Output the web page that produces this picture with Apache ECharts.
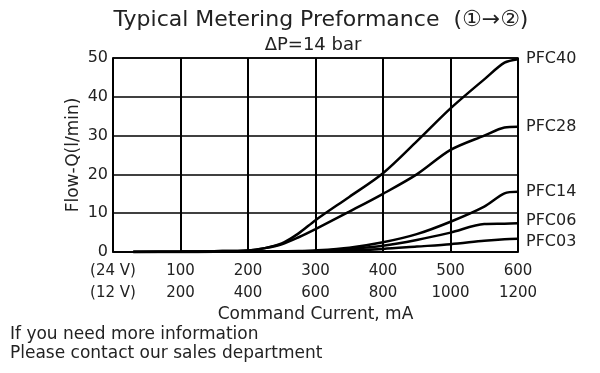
<!DOCTYPE html>
<html><head><meta charset="utf-8">
<script src="https://cdn.jsdelivr.net/npm/echarts@6/dist/echarts.min.js"></script>
<style>html,body{margin:0;padding:0;background:#fff}#c{width:600px;height:373px}</style>
</head><body><div id="c"></div>
<script>
const xs = [30, 100, 150, 200, 225, 250, 275, 300, 350, 400, 450, 500, 550, 580, 600];
const seriesNames = ['PFC40', 'PFC28', 'PFC14', 'PFC06', 'PFC03'];
const pfc40 = [0, 0.1, 0.2, 0.4, 1.0, 2.2, 4.8, 8.2, 14.2, 20.3, 28.5, 37.0, 44.5, 48.8, 49.7];
const pfc28 = [0, 0.1, 0.2, 0.4, 1.0, 2.0, 3.8, 5.9, 10.4, 15.0, 20.0, 26.3, 30.0, 32.1, 32.3];
const pfc14 = [0, 0, 0.05, 0.1, 0.15, 0.2, 0.25, 0.4, 1.1, 2.5, 4.6, 7.8, 11.7, 15.1, 15.5];
const pfc06 = [0, 0, 0.05, 0.1, 0.12, 0.15, 0.2, 0.3, 0.8, 1.6, 3.1, 5.0, 7.2, 7.3, 7.4];
const pfc03 = [0, 0, 0.05, 0.08, 0.1, 0.1, 0.12, 0.2, 0.4, 0.8, 1.4, 2.0, 2.9, 3.3, 3.4];
const xTop = ['(24 V)', '100', '200', '300', '400', '500', '600'];
const xBottom = ['(12 V)', '200', '400', '600', '800', '1000', '1200'];
const yTicks = [0, 10, 20, 30, 40, 50];

const FONT = '"DejaVu Sans", sans-serif';
const allVals = [pfc40, pfc28, pfc14, pfc06, pfc03];
const labelOffsets = [[0, 0], [0, 0], [0, 0], [0, -2], [0, 3]];
const chart = echarts.init(document.getElementById('c'), null, {renderer: 'canvas'});
chart.setOption({
  backgroundColor: '#fff',
  animation: false,
  textStyle: {fontFamily: FONT, color: '#222'},
  title: [
    {text: 'Typical Metering Preformance  (①→②)', left: 321, top: 9, padding: 0, textAlign: 'center',
     textStyle: {fontFamily: FONT, fontSize: 22, fontWeight: 'normal', color: '#222'}},
    {text: 'ΔP=14 bar', left: 313, top: 36, padding: 0, textAlign: 'center',
     textStyle: {fontFamily: FONT, fontSize: 18, fontWeight: 'normal', color: '#222'}},
    {text: 'If you need more information\nPlease contact our sales department', left: 10, top: 325, padding: 0,
     textStyle: {fontFamily: FONT, fontSize: 17, fontWeight: 'normal', color: '#222', lineHeight: 19}}
  ],
  grid: {left: 113, right: 82, top: 58, bottom: 121},
  xAxis: {
    type: 'value', min: 0, max: 600, interval: 100,
    name: 'Command Current, mA', nameLocation: 'middle', nameGap: 54, nameMoveOverlap: false,
    nameTextStyle: {fontFamily: FONT, fontSize: 17, color: '#222'},
    axisLine: {lineStyle: {color: '#000', width: 1.5}},
    axisTick: {show: false},
    splitLine: {show: true, lineStyle: {color: '#000', width: 2}},
    axisLabel: {
      margin: 8, fontFamily: FONT, fontSize: 15, color: '#222', lineHeight: 22,
      formatter: function (v) { const i = Math.round(v / 100); return xTop[i] + '\n' + xBottom[i]; }
    }
  },
  yAxis: {
    type: 'value', min: 0, max: 50, interval: 10,
    name: 'Flow-Q(l/min)', nameLocation: 'middle', nameGap: 31, nameRotate: 90, nameMoveOverlap: false,
    nameTextStyle: {fontFamily: FONT, fontSize: 17, color: '#222'},
    axisLine: {show: true, lineStyle: {color: '#000', width: 1.5}},
    axisTick: {show: false},
    splitLine: {show: true, lineStyle: {color: '#000', width: 1.5}},
    axisLabel: {margin: 5, fontFamily: FONT, fontSize: 16, color: '#222',
      formatter: function (v) { return String(yTicks[Math.round(v / 10)]); }}
  },
  series: seriesNames.map(function (name, k) {
    return {
      name: name, type: 'line', smooth: 0.3, showSymbol: false,
      lineStyle: {color: '#000', width: 2.5},
      data: xs.map(function (x, i) { return [x, allVals[k][i]]; }),
      endLabel: {show: true, formatter: '{a}', distance: 8, offset: labelOffsets[k], fontFamily: FONT, fontSize: 16, color: '#222'}
    };
  }),
  graphic: [
    {type: 'rect', shape: {x: 113, y: 58, width: 405, height: 194}, style: {fill: 'none', stroke: '#000', lineWidth: 1.5}, silent: true, z: 100}
  ]
});
</script>
</body></html>
